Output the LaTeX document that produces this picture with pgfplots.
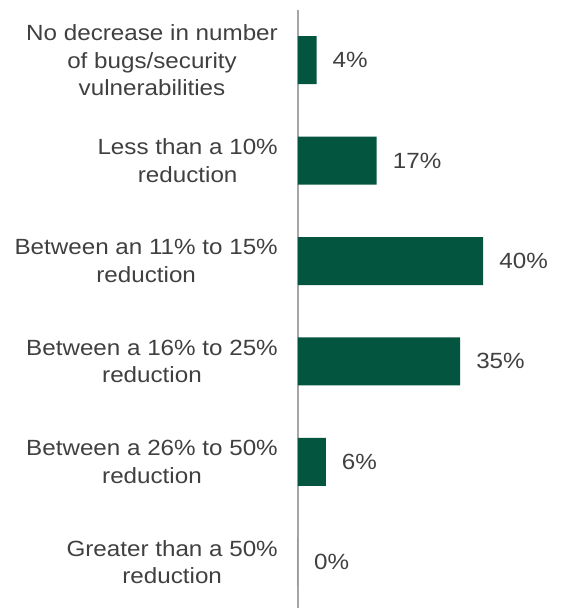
\documentclass[border=0pt]{standalone}
\usepackage{fontspec}
\setmainfont{Liberation Sans}[FakeStretch=1.1]
\usepackage{pgfplots}
\pgfplotsset{compat=1.18}
\definecolor{bargreen}{HTML}{03553F}
\definecolor{txt}{HTML}{404040}
\definecolor{axgray}{HTML}{A6A6A6}
\begin{document}
\begin{tikzpicture}
\begin{axis}[
  name=ax,
  at={(0,0)}, anchor=south west,
  scale only axis,
  width=263bp, height=598bp,
  xbar, bar width=48bp,
  xmin=0, xmax=56.8,
  ymin=-0.5, ymax=5.456,
  y dir=reverse,
  axis x line=none,
  axis y line*=left,
  y axis line style={draw=axgray, line width=1.6bp, -},
  ytick={0,1,2,3,4,5},
  major tick length=0pt,
  /pgf/number format/assume math mode=true,
  yticklabels={{No decrease in number\\of bugs/security\\vulnerabilities},{Less than a 10\%\\reduction},{Between an 11\% to 15\%\\reduction},{Between a 16\% to 25\%\\reduction},{Between a 26\% to 50\%\\reduction},{Greater than a 50\%\\reduction}},
  yticklabel style={align=center, font=\fontsize{22bp}{27.5bp}\selectfont, text=txt, inner sep=0pt, xshift=-20bp},
  nodes near coords={\pgfmathprintnumber{\pgfplotspointmeta}\%},
  nodes near coords style={font=\fontsize{22bp}{26bp}\selectfont, text=txt, anchor=west, inner sep=0pt, xshift=16bp},
  point meta=explicit,
  clip=false,
]
\addplot[fill=bargreen, draw=none] coordinates {(4,0) [4] (17,1) [17] (40,2) [40] (35,3) [35] (6,4) [6] (0,5) [0]};
\end{axis}
\pgfresetboundingbox
\path ([xshift=-298bp]ax.south west) rectangle ++(561bp,608bp);
\end{tikzpicture}
\end{document}
